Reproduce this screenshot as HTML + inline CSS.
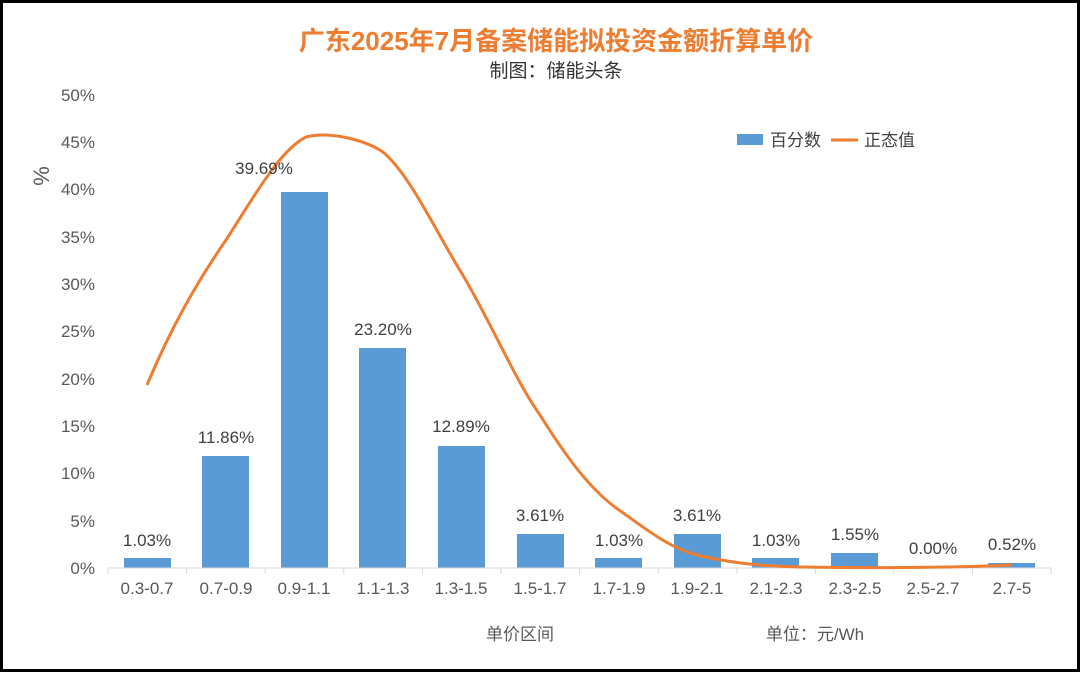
<!DOCTYPE html>
<html><head><meta charset="utf-8"><style>
html,body{margin:0;padding:0;background:#fff}
body{width:1080px;height:672px;overflow:hidden}
text{font-family:"Liberation Sans","Noto Sans CJK SC",sans-serif}
</style></head><body>
<svg width="1080" height="672" viewBox="0 0 1080 672" xmlns="http://www.w3.org/2000/svg">
<rect x="1.5" y="1.5" width="1077" height="669" fill="#fff" stroke="#000" stroke-width="3"/>
<text x="556" y="50" text-anchor="middle" font-size="26" font-weight="bold" fill="#ED7D31">广东2025年7月备案储能拟投资金额折算单价</text>
<text x="556" y="77" text-anchor="middle" font-size="19" fill="#333">制图：储能头条</text>
<g font-size="17" fill="#595959" text-anchor="end">
<text x="95" y="574">0%</text><text x="95" y="527">5%</text><text x="95" y="479">10%</text><text x="95" y="432">15%</text><text x="95" y="385">20%</text><text x="95" y="337">25%</text><text x="95" y="290">30%</text><text x="95" y="243">35%</text><text x="95" y="195">40%</text><text x="95" y="148">45%</text><text x="95" y="101">50%</text>
</g>
<text x="42" y="176" font-size="22" fill="#595959" transform="rotate(-90 42 176)" text-anchor="middle" dy="7">%</text>
<g fill="#5B9BD5">
<rect x="124" y="558" width="47" height="10"/>
<rect x="202" y="456" width="47" height="112"/>
<rect x="281" y="192" width="47" height="376"/>
<rect x="359" y="348" width="47" height="220"/>
<rect x="438" y="446" width="47" height="122"/>
<rect x="517" y="534" width="47" height="34"/>
<rect x="595" y="558" width="47" height="10"/>
<rect x="674" y="534" width="47" height="34"/>
<rect x="752" y="558" width="47" height="10"/>
<rect x="831" y="553" width="47" height="15"/>
<rect x="988" y="563" width="47" height="5"/>
</g>
<line x1="108" y1="568" x2="1051" y2="568" stroke="#d9d9d9" stroke-width="1"/>
<g stroke="#d9d9d9"><line x1="108" y1="568" x2="108" y2="574"/><line x1="186.6" y1="568" x2="186.6" y2="574"/><line x1="265.2" y1="568" x2="265.2" y2="574"/><line x1="343.8" y1="568" x2="343.8" y2="574"/><line x1="422.4" y1="568" x2="422.4" y2="574"/><line x1="501" y1="568" x2="501" y2="574"/><line x1="579.6" y1="568" x2="579.6" y2="574"/><line x1="658.2" y1="568" x2="658.2" y2="574"/><line x1="736.8" y1="568" x2="736.8" y2="574"/><line x1="815.4" y1="568" x2="815.4" y2="574"/><line x1="894" y1="568" x2="894" y2="574"/><line x1="972.6" y1="568" x2="972.6" y2="574"/><line x1="1051" y1="568" x2="1051" y2="574"/></g>
<path d="M147,385 C170,330 195,285 226,240 C255,195 280,150 306,137 C330,131 365,140 383,152 C410,175 435,230 461,272 C490,320 515,380 540,415 C565,455 590,490 619,510 C650,532 670,548 697,555 C730,563 760,566 800,567 C860,568 950,568 1012,565" fill="none" stroke="#ED7D31" stroke-width="3"/>
<g font-size="17" fill="#404040" text-anchor="middle">
<text x="147" y="546">1.03%</text><text x="226" y="443">11.86%</text><text x="264" y="174">39.69%</text><text x="383" y="335">23.20%</text><text x="461" y="432">12.89%</text><text x="540" y="521">3.61%</text><text x="619" y="546">1.03%</text><text x="697" y="521">3.61%</text><text x="776" y="546">1.03%</text><text x="855" y="540">1.55%</text><text x="933" y="554">0.00%</text><text x="1012" y="550">0.52%</text>
</g>
<g font-size="17" fill="#595959" text-anchor="middle">
<text x="147" y="594">0.3-0.7</text><text x="226" y="594">0.7-0.9</text><text x="304" y="594">0.9-1.1</text><text x="383" y="594">1.1-1.3</text><text x="461" y="594">1.3-1.5</text><text x="540" y="594">1.5-1.7</text><text x="619" y="594">1.7-1.9</text><text x="697" y="594">1.9-2.1</text><text x="776" y="594">2.1-2.3</text><text x="855" y="594">2.3-2.5</text><text x="933" y="594">2.5-2.7</text><text x="1012" y="594">2.7-5</text>
</g>
<text x="520" y="640" font-size="17" fill="#595959" text-anchor="middle">单价区间</text>
<text x="815" y="640" font-size="17" fill="#595959" text-anchor="middle">单位：元/Wh</text>
<rect x="737" y="134" width="26" height="11" fill="#5B9BD5"/>
<text x="770" y="146" font-size="17" fill="#404040">百分数</text>
<line x1="831" y1="140" x2="858" y2="140" stroke="#ED7D31" stroke-width="3"/>
<text x="864" y="146" font-size="17" fill="#404040">正态值</text>
</svg>
</body></html>
